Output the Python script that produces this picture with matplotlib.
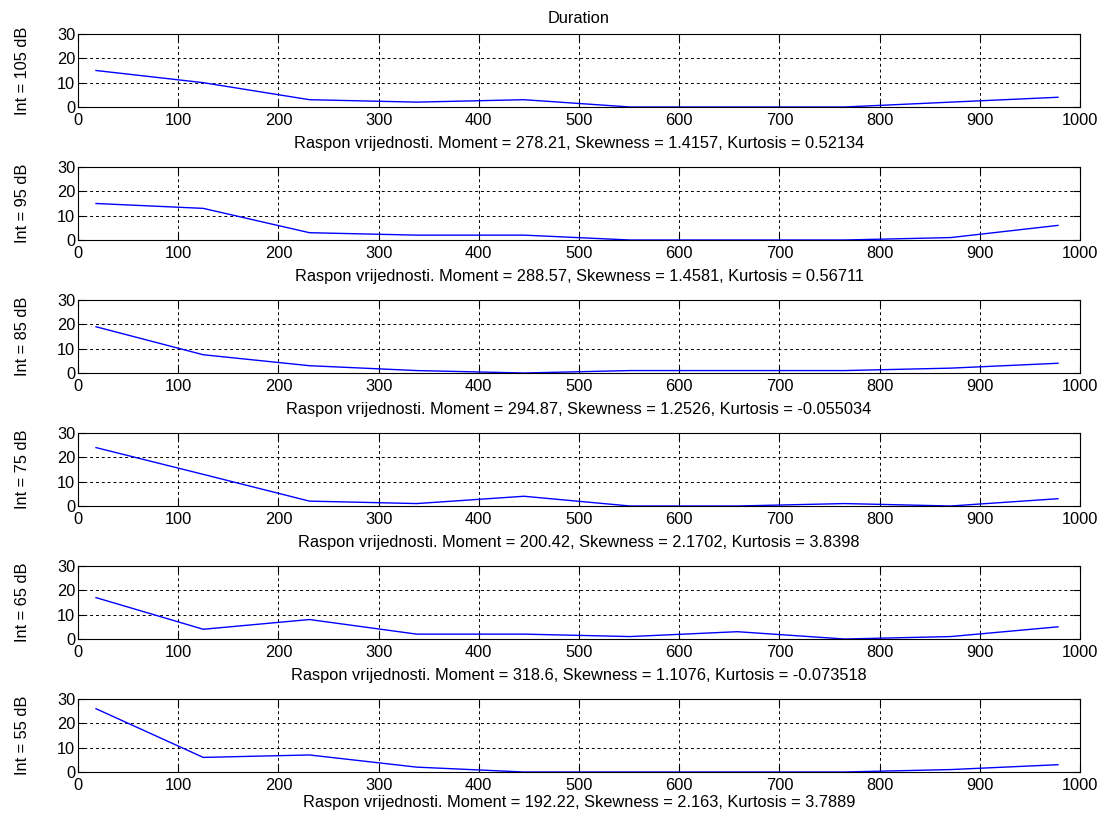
import numpy as np
import matplotlib.pyplot as plt

plt.rcParams['font.family'] = ['Liberation Sans', 'DejaVu Sans']

# bin centres of the duration histogram
x = [18, 125, 231, 338, 445, 551, 658, 765, 871, 978]

levels = ['105', '95', '85', '75', '65', '55']
counts = [
    [15, 10, 3, 2, 3, 0, 0, 0, 2, 4],
    [15, 13, 3, 2, 2, 0, 0, 0, 1, 6],
    [19, 7.5, 3, 1, 0, 1, 1, 1, 2, 4],
    [24, 13, 2, 1, 4, 0, 0, 1, 0, 3],
    [17, 4, 8, 2, 2, 1, 3, 0, 1, 5],
    [26, 6, 7, 2, 0, 0, 0, 0, 1, 3],
]
moments = ['278.21', '288.57', '294.87', '200.42', '318.6', '192.22']
skewness = ['1.4157', '1.4581', '1.2526', '2.1702', '1.1076', '2.163']
kurtosis = ['0.52134', '0.56711', '-0.055034', '3.8398', '-0.073518', '3.7889']

W, H = 1107, 818
fig = plt.figure(figsize=(W / 100, H / 100), dpi=100)

fs = 11.8
left, right = 78, 1080
for k in range(6):
    top = 34 + 133 * k
    bottom = top + 73
    ax = fig.add_axes([left / W, 1 - bottom / H, (right - left) / W, (bottom - top) / H])
    ax.plot(x, counts[k], color='#0000ff', lw=1)
    ax.set_xlim(0, 1000)
    ax.set_ylim(0, 30)
    ax.set_xticks(np.arange(0, 1001, 100))
    ax.set_yticks([0, 10, 20, 30])
    ax.grid(True, color='black', linestyle=(0, (3, 3)), linewidth=0.7)
    ax.tick_params(direction='in', top=True, right=True, length=5, labelsize=fs, pad=2)
    ax.tick_params(axis='x', pad=4)
    for s in ax.spines.values():
        s.set_linewidth(0.8)
    ax.set_ylabel('Int = %s dB' % levels[k], fontsize=fs, labelpad=19)
    # the bottom label sits a little tighter in the original
    ax.set_xlabel('Raspon vrijednosti. Moment = %s, Skewness = %s, Kurtosis = %s'
                  % (moments[k], skewness[k], kurtosis[k]), fontsize=fs,
                  labelpad=6 if k < 5 else 2)
    if k == 0:
        ax.set_title('Duration', fontsize=fs, pad=8)

fig.savefig('out.png', dpi=100)
